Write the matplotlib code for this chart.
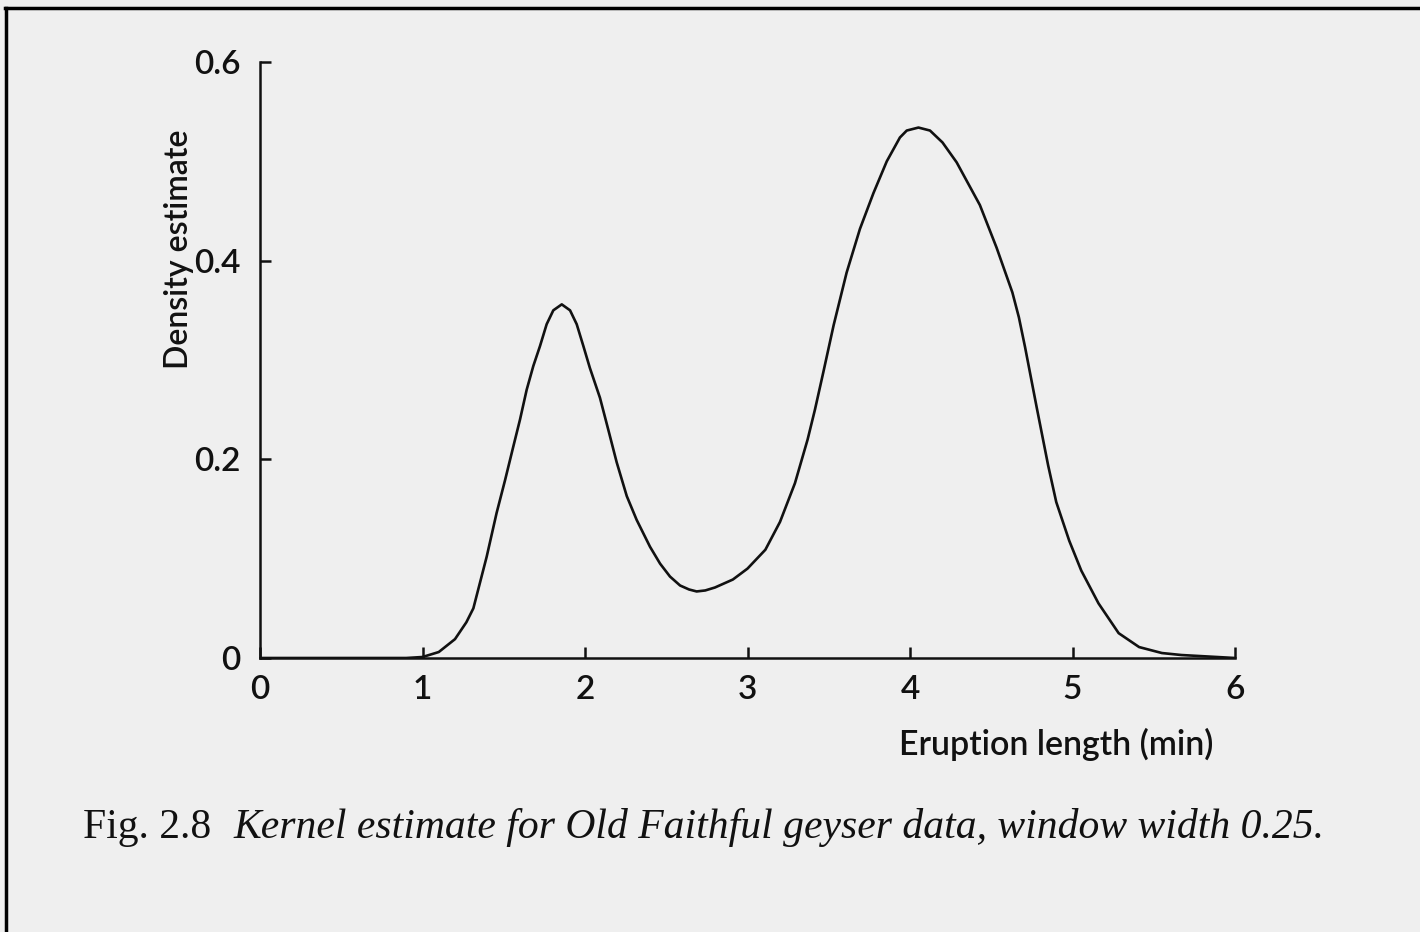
#! /usr/bin/env python3
# -*- coding: utf-8 -*-

# Kernel density estimate, Old Faithful eruption lengths (window width 0.25)

import matplotlib
matplotlib.use('Agg')
import matplotlib.pyplot as plt
from matplotlib.lines import Line2D

# values
eruption_min = [0.0, 0.5, 0.9, 1.0, 1.1, 1.2, 1.27, 1.313, 1.395, 1.456,
                1.508, 1.559, 1.6, 1.641, 1.682, 1.723, 1.764, 1.805, 1.857,
                1.908, 1.949, 1.99, 2.03, 2.092, 2.143, 2.195, 2.257, 2.318,
                2.40, 2.462, 2.523, 2.585, 2.64, 2.687, 2.74, 2.80, 2.91, 3.0,
                3.11, 3.2, 3.292, 3.37, 3.415, 3.467, 3.53, 3.61, 3.692,
                3.775, 3.857, 3.938, 3.98, 4.052, 4.123, 4.2, 4.287, 4.43,
                4.533, 4.63, 4.67, 4.708, 4.78, 4.85, 4.90, 4.98, 5.054, 5.16,
                5.284, 5.41, 5.55, 5.67, 6.0]
density = [0.0, 0.0, 0.0, 0.001, 0.006, 0.019, 0.036, 0.050, 0.102, 0.146,
           0.179, 0.213, 0.240, 0.270, 0.294, 0.314, 0.336, 0.350, 0.356,
           0.350, 0.336, 0.314, 0.292, 0.262, 0.230, 0.197, 0.163, 0.139,
           0.112, 0.095, 0.082, 0.073, 0.069, 0.067, 0.068, 0.071, 0.079,
           0.090, 0.109, 0.137, 0.176, 0.220, 0.250, 0.288, 0.335, 0.388,
           0.432, 0.468, 0.500, 0.524, 0.531, 0.534, 0.531, 0.519, 0.499,
           0.456, 0.413, 0.368, 0.343, 0.313, 0.252, 0.194, 0.157, 0.118,
           0.088, 0.055, 0.025, 0.011, 0.005, 0.003, 0.0]

x_ticks = [0, 1, 2, 3, 4, 5, 6]
y_ticks = [0, 0.2, 0.4, 0.6]
y_tick_labels = ['0', '0.2', '0.4', '0.6']

paper = '#efefef'
ink = '#111111'
label_font = 'Lato'

fig = plt.figure(figsize=(14.2, 9.32), dpi=100, facecolor=paper)
ax = fig.add_axes([260 / 1420, 1 - 658 / 932, 975 / 1420, 596 / 932])
ax.set_facecolor(paper)

ax.plot(eruption_min, density, color=ink, lw=1.9,
        solid_joinstyle='round', solid_capstyle='round')

ax.set_xlim(0, 6)
ax.set_ylim(0, 0.6)
for side in ('top', 'right'):
    ax.spines[side].set_visible(False)
for side in ('left', 'bottom'):
    ax.spines[side].set_linewidth(1.8)
    ax.spines[side].set_color(ink)

ax.set_xticks(x_ticks)
ax.set_xticklabels([str(t) for t in x_ticks])
ax.set_yticks(y_ticks)
ax.set_yticklabels(y_tick_labels)
ax.tick_params(direction='in', length=8, width=1.8, color=ink,
               labelsize=24, labelcolor=ink)
ax.tick_params(axis='x', pad=12)
ax.tick_params(axis='y', pad=14)
for lab in ax.get_xticklabels() + ax.get_yticklabels():
    lab.set_family(label_font)
    lab.set_weight('semibold')

ax.text(0.817, -0.145, 'Eruption length (min)', transform=ax.transAxes,
        ha='center', va='center', fontsize=24.5, color=ink,
        family=label_font, weight='semibold')
ax.text(-0.083, 0.685, 'Density estimate', transform=ax.transAxes,
        rotation=90, ha='center', va='center', fontsize=23, color=ink,
        family=label_font, weight='semibold')

# caption below the plot
fig.text(83 / 1420, 1 - 838 / 932, 'Fig. 2.8', ha='left', va='baseline',
         fontsize=30, color=ink, family='Liberation Serif')
fig.text(233 / 1420, 1 - 838 / 932,
         'Kernel estimate for Old Faithful geyser data, window width 0.25.',
         ha='left', va='baseline', fontsize=30, style='italic', color=ink,
         family='Liberation Serif')

# scan frame (top and left edges)
fig.add_artist(Line2D([5 / 1420, 1], [1 - 8 / 932, 1 - 8 / 932],
                      transform=fig.transFigure, color='black', lw=2.5))
fig.add_artist(Line2D([6 / 1420, 6 / 1420], [0, 1 - 8 / 932],
                      transform=fig.transFigure, color='black', lw=2.5))

fig.savefig('out.png', dpi=100, facecolor=paper)
